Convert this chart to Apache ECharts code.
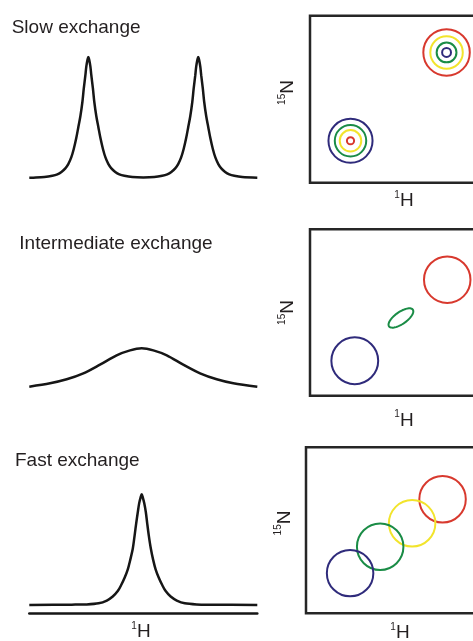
<!DOCTYPE html>
<html><head><meta charset="utf-8">
<script src="https://cdn.jsdelivr.net/npm/echarts@6/dist/echarts.min.js"></script>
<style>html,body{margin:0;padding:0;background:#fff}#c{width:473px;height:641px}</style>
</head><body><div id="c"></div>
<script>
// ---------- DATA ----------
const panelTitles = ['Slow exchange', 'Intermediate exchange', 'Fast exchange'];
const protonLabel = '{s|1}{m|H}';
const nitrogenLabel = '{s|15}{m|N}';

// 1D spectra: [chemical shift (a.u.), intensity (a.u.)]
const slowSpectrum = [[0,0.2],[1.8,0.3],[6.6,0.8],[10.1,1.8],[12.3,3],[14.1,5],[15.8,8],[17.1,11.5],[18.4,17],[19.5,24],[20.6,33],[21.5,42],[22.4,51],[23.3,63],[23.9,74],[24.6,85],[25.0,92],[25.5,97.5],[25.9,100],
  [26.3,97.5],[26.8,92],[27.2,85],[27.9,74],[28.5,63],[29.4,51],[30.3,42],[31.2,33],[32.3,24],[33.4,17],[34.7,11.5],[36.0,8],[37.7,5],[39.5,3],[41.7,1.8],[45.2,0.8],[50,0.5],
  [54.8,0.8],[58.3,1.8],[60.5,3],[62.3,5],[64.0,8],[65.3,11.5],[66.6,17],[67.7,24],[68.8,33],[69.7,42],[70.6,51],[71.5,63],[72.1,74],[72.8,85],[73.2,92],[73.7,97.5],[74.1,100],
  [74.5,97.5],[75.0,92],[75.4,85],[76.1,74],[76.7,63],[77.6,51],[78.5,42],[79.4,33],[80.5,24],[81.6,17],[82.9,11.5],[84.2,8],[85.9,5],[87.7,3],[89.9,1.8],[93.4,0.8],[100,0.3]];
const intermediateSpectrum = [[0,0],[9.1,2.8],[16.4,6.1],[23.7,11.0],[31.0,18.2],[38.3,25.9],[44.2,30.0],[49.3,31.7],[54.4,30.0],[60.3,25.9],[67.5,18.2],[74.9,11.0],[82.2,6.1],[89.5,2.8],[100,0]];
const fastSpectrum = [[0,0],[18.6,0.3],[25.2,0.5],[30.4,1.4],[34.0,3.7],[36.6,7],[38.8,11.5],[40.3,16.5],[41.8,22.5],[43.2,29.5],[44.3,37.5],[45.4,46.7],[46.2,57.6],[46.9,67.7],[47.6,76.9],[48.2,84.2],[48.8,88.8],[49.3,91.5],
  [49.8,88.8],[50.4,84.2],[51.1,76.9],[51.7,67.7],[52.4,57.6],[53.3,46.7],[54.3,37.5],[55.4,29.5],[56.8,22.5],[58.3,16.5],[59.8,11.5],[62.0,7],[64.7,3.7],[68.2,1.4],[73.4,0.5],[80,0.3],[100,0]];

// 2D HSQC peaks: [1H, 15N, contour radius]
const slowRed    = [[79.9, 78.0, 13.6], [23.7, 25.1, 2.1]];
const slowYellow = [[79.9, 78.0, 9.5],  [23.7, 25.1, 6.3]];
const slowGreen  = [[79.9, 78.0, 5.8],  [23.7, 25.1, 9.2]];
const slowPurple = [[79.9, 78.0, 2.6],  [23.7, 25.1, 12.9]];

const intermediateRed    = [[80.3, 69.7, 13.6]];
const intermediateGreen  = [[53.2, 46.7, 8.5, 3.5, 35]]; // [1H, 15N, semi-major, semi-minor, tilt deg]
const intermediatePurple = [[26.2, 21.0, 13.7]];

const fastRed    = [[79.9, 68.7, 13.6]];
const fastYellow = [[62.1, 54.2, 13.6]];
const fastGreen  = [[43.4, 40.1, 13.6]];
const fastPurple = [[25.8, 24.2, 13.6]];

// ---------- STYLE ----------
const C = { red: '#d8392e', yellow: '#f2e42c', green: '#1a8c46', purple: '#2f2b7b', ink: '#161616', text: '#231f20' };
const FONT = '"Liberation Sans", Arial, Helvetica, sans-serif';

const chart = echarts.init(document.getElementById('c'), null, { renderer: 'canvas' });

function ringSeries(idx, data, color) {
  return {
    type: 'custom', xAxisIndex: idx, yAxisIndex: idx, data: data, clip: false, silent: true, animation: false,
    renderItem: function (params, api) {
      const c = api.coord([api.value(0), api.value(1)]);
      const r = api.size([api.value(2), 0])[0];
      return { type: 'circle', shape: { cx: c[0], cy: c[1], r: r }, style: { fill: 'none', stroke: color, lineWidth: 2 } };
    }
  };
}
function ellipseSeries(idx, data, color) {
  return {
    type: 'custom', xAxisIndex: idx, yAxisIndex: idx, data: data, clip: false, silent: true, animation: false,
    renderItem: function (params, api) {
      const c = api.coord([api.value(0), api.value(1)]);
      const a = api.size([api.value(2), 0])[0];
      const b = api.size([api.value(3), 0])[0];
      const th = api.value(4) * Math.PI / 180;
      const pts = [];
      for (let k = 0; k < 72; k++) {
        const t = k / 72 * 2 * Math.PI;
        const ex = a * Math.cos(t), ey = b * Math.sin(t);
        pts.push([c[0] + ex * Math.cos(th) - ey * Math.sin(th), c[1] - (ex * Math.sin(th) + ey * Math.cos(th))]);
      }
      return { type: 'polygon', shape: { points: pts }, style: { fill: 'none', stroke: color, lineWidth: 2 } };
    }
  };
}
function lineSeries(idx, data) {
  return {
    type: 'line', xAxisIndex: idx, yAxisIndex: idx, data: data, symbol: 'none', smooth: 0.3,
    lineStyle: { color: C.ink, width: 2.5 }, silent: true, animation: false
  };
}

const boxStyle = { show: true, borderColor: '#262626', borderWidth: 2.5, backgroundColor: 'transparent', outerBoundsMode: 'none', containLabel: false };
const grids = [
  { left: 29.3, width: 228, top: 57, height: 121, outerBoundsMode: 'none' },
  { left: 29.3, width: 228, top: 265.7, height: 121, outerBoundsMode: 'none' },
  { left: 29.3, width: 228, top: 484, height: 129, outerBoundsMode: 'none' },
  Object.assign({ left: 310, width: 188, top: 15.7, height: 167 }, boxStyle),
  Object.assign({ left: 310, width: 188, top: 229.3, height: 166.4 }, boxStyle),
  Object.assign({ left: 306, width: 188, top: 447.3, height: 166 }, boxStyle)
];

const xAxes = grids.map(function (g, i) {
  const ax = { gridIndex: i, type: 'value', min: 0, max: i < 3 ? 100 : 110, show: false };
  if (i === 2) {
    ax.show = true;
    ax.axisLine = { show: true, onZero: false, lineStyle: { color: C.ink, width: 2.5 } };
    ax.axisTick = { show: false }; ax.axisLabel = { show: false }; ax.splitLine = { show: false };
  }
  return ax;
});
const yAxes = grids.map(function (g, i) {
  return { gridIndex: i, type: 'value', min: i === 2 ? -6.6 : 0, max: 100, show: false };
});

const rich = {
  s: { fontSize: 10, lineHeight: 12, verticalAlign: 'top', fontFamily: FONT, fill: C.text },
  m: { fontSize: 19, lineHeight: 22, fontFamily: FONT, fill: C.text }
};
function titleText(x, y, t) {
  return { type: 'text', x: x, y: y, silent: true, style: { text: t, fontSize: 19, fontFamily: FONT, fill: C.text, align: 'left', verticalAlign: 'middle' } };
}
function richText(x, y, t, rot) {
  return { type: 'text', x: x, y: y, rotation: rot || 0, silent: true, style: { text: t, rich: rich, fill: C.text, align: 'center', verticalAlign: 'middle' } };
}

chart.setOption({
  backgroundColor: '#ffffff',
  animation: false,
  grid: grids,
  xAxis: xAxes,
  yAxis: yAxes,
  series: [
    lineSeries(0, slowSpectrum),
    lineSeries(1, intermediateSpectrum),
    lineSeries(2, fastSpectrum),
    ringSeries(3, slowRed, C.red), ringSeries(3, slowYellow, C.yellow), ringSeries(3, slowGreen, C.green), ringSeries(3, slowPurple, C.purple),
    ringSeries(4, intermediateRed, C.red), ellipseSeries(4, intermediateGreen, C.green), ringSeries(4, intermediatePurple, C.purple),
    ringSeries(5, fastRed, C.red), ringSeries(5, fastYellow, C.yellow), ringSeries(5, fastGreen, C.green), ringSeries(5, fastPurple, C.purple)
  ],
  graphic: [
    titleText(11.7, 28, panelTitles[0]),
    titleText(19.3, 243.3, panelTitles[1]),
    titleText(15, 461, panelTitles[2]),
    richText(404, 201, protonLabel),
    richText(404, 420.5, protonLabel),
    richText(400, 633, protonLabel),
    richText(141, 632, protonLabel),
    richText(288, 92.5, nitrogenLabel, Math.PI / 2),
    richText(288, 312.5, nitrogenLabel, Math.PI / 2),
    richText(284.5, 523, nitrogenLabel, Math.PI / 2)
  ]
});
</script>
</body></html>
